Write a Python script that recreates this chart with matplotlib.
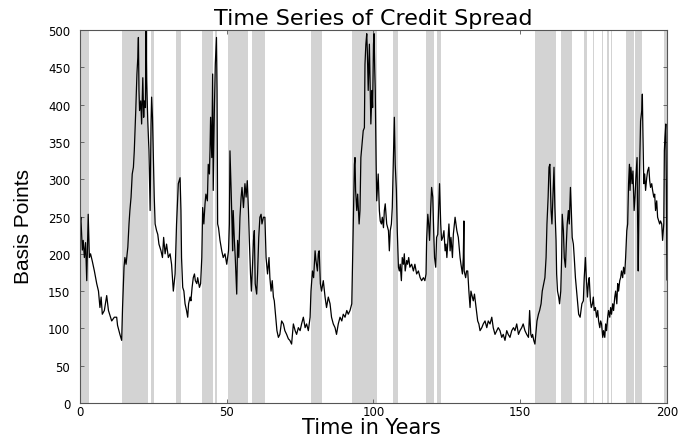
import matplotlib
matplotlib.use("Agg")
import matplotlib.pyplot as plt

# spread series (years, basis points)
years = [
    0.0, 0.3, 0.8, 1.1, 1.5, 1.9, 2.3, 2.8, 3.2, 3.6, 4.2, 4.9, 5.7, 6.3, 6.8, 7.2, 7.6, 8.3, 9.1, 9.7,
    10.8, 11.7, 12.5, 12.8, 13.6, 14.2, 14.5, 15.0, 15.3, 15.7, 16.3, 16.7, 17.0, 17.4, 17.8, 18.2, 18.5,
    19.0, 19.4, 19.7, 19.9, 20.1, 20.3, 20.7, 21.0, 21.4, 21.7, 21.9, 22.3, 22.5, 22.7, 23.1, 23.5, 23.9,
    24.2, 24.4, 24.7, 25.0, 25.3, 25.6, 26.1, 26.5, 26.9, 27.6, 28.1, 28.5, 29.0, 29.5, 30.1,
    30.7, 31.2, 31.8, 32.4, 32.9, 33.5, 34.1, 34.4, 34.6, 35.0, 35.4, 35.8, 36.3, 36.7, 37.0, 37.5, 37.8,
    38.2, 38.6, 39.0, 39.3, 39.8, 40.1, 40.7, 41.1, 41.5, 41.8, 42.2, 42.6, 42.9, 43.4, 43.7, 44.1, 44.3,
    44.5, 44.9, 45.2, 45.4, 45.8, 46.1, 46.5, 46.7, 46.9, 47.2, 47.7, 48.3, 48.8, 49.4, 50.0, 50.6, 50.9,
    51.1, 51.5, 51.8, 52.0, 52.2, 52.6, 52.9, 53.4, 53.7, 54.1, 54.5, 54.9, 55.2, 55.7, 56.2, 56.6, 57.0,
    57.4, 57.7, 58.1, 58.4, 58.8, 59.1, 59.4, 59.7, 60.2, 60.5, 60.9, 61.3, 61.7, 62.0, 62.5,
    63.0, 63.4, 63.9, 64.4, 64.7, 65.1, 65.5, 65.9, 66.2, 66.7, 67.1, 67.6, 68.1, 68.7, 69.3, 69.8, 70.4,
    71.0, 71.5, 72.1, 72.7, 73.3, 73.8, 74.4, 75.0, 75.5, 76.1, 76.7, 77.2, 77.8, 78.4, 78.7, 79.2, 79.6,
    80.1, 80.4, 80.9, 81.2, 81.5, 81.9, 82.3, 82.9, 83.5, 84.0, 84.6, 85.2, 85.7, 86.3, 86.9, 87.4, 88.0,
    88.6, 89.2, 89.7, 90.3, 90.9, 91.4, 92.0, 92.6, 92.9, 93.2, 93.5, 93.7, 93.9, 94.3, 94.6, 95.1, 95.4,
    95.7, 96.2, 96.5, 96.9,
    97.1, 97.4, 97.7, 97.9, 98.2, 98.6, 98.8, 99.1, 99.5, 99.7, 100.0, 100.2, 100.4, 100.6, 100.9, 101.1,
    101.3, 101.6, 102.0, 102.3, 102.7, 103.0, 103.4, 103.7, 104.0, 104.5, 105.1, 105.4, 105.7, 106.1,
    106.4, 106.8, 107.1, 107.4, 107.8, 108.1, 108.5, 108.8, 109.1, 109.5, 109.8, 110.2, 110.5, 110.8,
    111.3, 111.6, 112.0, 112.4, 113.0, 113.6, 114.1, 114.7, 115.3, 115.9, 116.4, 117.0, 117.5, 117.9,
    118.1, 118.5, 118.8, 119.1, 119.5, 119.8, 120.2, 120.5, 120.8, 121.2, 121.5, 121.9, 122.2, 122.5,
    122.9, 123.2, 123.6, 124.0, 124.4, 124.7, 125.0, 125.4, 125.7, 126.1, 126.4, 126.9, 127.2,
    127.8, 128.1, 128.4, 128.9, 129.1, 129.5, 129.8, 130.3, 130.6, 130.8, 130.9, 131.4, 131.7, 132.1,
    132.5, 132.9, 133.2, 133.7, 134.0, 134.4, 134.8, 135.1, 135.5, 135.9, 136.3, 136.9, 137.4, 138.0,
    138.6, 139.1, 139.7, 140.3, 140.8, 141.4, 142.0, 142.5, 143.1, 143.7, 144.2, 144.8, 145.4, 145.9,
    146.5, 147.1, 147.7, 148.2, 148.8, 149.4, 149.9, 150.5, 151.0, 151.6, 152.2, 152.8, 153.2, 153.6,
    153.9, 154.2, 154.6, 155.0, 155.4, 155.7, 156.2, 156.6, 157.1, 157.5, 158.0, 158.4, 158.8, 159.1,
    159.5, 159.8,
    160.1, 160.5, 160.8, 161.2, 161.5, 161.8, 162.2, 162.4, 162.7, 163.1, 163.4, 163.8, 164.1, 164.3,
    164.7, 165.0, 165.4, 165.7, 166.0, 166.4, 166.7, 167.1, 167.4, 167.7, 168.1, 168.4, 168.8, 169.2,
    169.6, 169.9, 170.4, 170.7, 171.0, 171.5, 171.8, 172.2, 172.5, 172.9, 173.2, 173.5, 173.9, 174.2,
    174.6, 174.9, 175.2, 175.6, 176.0, 176.4, 176.7, 177.1, 177.4, 177.7, 178.1, 178.4, 178.8, 179.1,
    179.4, 179.8, 180.1, 180.5, 180.8, 181.1, 181.5, 181.8, 182.2, 182.5, 182.9, 183.2, 183.5, 183.9,
    184.2, 184.5, 184.9, 185.2, 185.6, 185.9, 186.3, 186.6, 186.9, 187.2, 187.4, 187.7, 188.1, 188.4,
    188.8, 189.1, 189.4, 189.8, 190.0, 190.2, 190.5, 190.8, 191.0, 191.4, 191.6, 191.8, 192.1, 192.4,
    192.7, 193.1, 193.4, 193.8, 194.1, 194.4, 194.8, 195.1, 195.5, 195.8, 196.1, 196.5, 196.8, 197.2,
    197.5, 197.8, 198.2, 198.5, 198.9, 199.1, 199.3, 199.6, 199.8, 200.0,
]
spread = [
    240, 249, 205, 218, 195, 215, 164, 253, 195, 200, 190, 177, 160, 150, 128, 142, 119, 124, 144, 124,
    110, 115, 115, 104, 92, 84, 128, 182, 195, 186, 209, 240, 258, 276, 307, 316, 338,
    392, 441, 463, 490, 419, 392, 405, 374, 436, 383, 405, 396, 500, 432, 378, 338, 258,
    374, 410, 383, 329, 276, 240, 231, 226, 213, 204, 195, 222, 200, 213, 195,
    200, 186, 150, 173, 240, 294, 302, 258, 195, 155, 150, 133, 124, 115, 133, 142, 137,
    155, 168, 173, 164, 160, 168, 155, 160, 195, 262, 240, 267, 280, 271, 320, 307, 338,
    383, 329, 441, 285, 396, 454, 490, 419, 240, 235, 218, 204, 195, 200, 186, 204, 240,
    338, 285, 240, 204, 258, 218, 195, 146, 218, 195, 249, 276, 289, 262, 294, 276, 298,
    258, 218, 173, 150, 186, 218, 231, 160, 146, 173, 222, 249, 253, 240, 249,
    249, 195, 173, 195, 168, 150, 164, 142, 137, 115, 97, 88, 92, 110, 106, 97, 92,
    86, 84, 79, 106, 97, 92, 101, 97, 106, 115, 101, 106, 97, 115, 150, 177, 168,
    204, 191, 177, 200, 204, 160, 150, 164, 142, 128, 142, 133, 115, 106, 101, 92, 106,
    115, 110, 119, 115, 124, 119, 124, 133, 195, 258, 320, 329, 285, 258, 280, 240, 258,
    329, 352, 365, 369,
    454, 481, 495, 472, 419, 481, 436, 374, 419, 396, 481, 495, 450, 419, 320, 271,
    285, 307, 258, 244, 240, 249, 235, 258, 267, 240, 231, 204, 231, 240,
    262, 329, 383, 320, 285, 231, 182, 177, 186, 164, 195, 186, 200, 177,
    191, 186, 195, 182, 186, 177, 186, 173, 177, 168, 164, 168, 164, 173,
    218, 253, 240, 218, 262, 289, 276, 231, 195, 182, 222, 226, 258, 294,
    240, 218, 222, 231, 204, 213, 195, 222, 240, 204, 222, 195, 226,
    249, 240, 231, 222, 213, 195, 186, 173, 195, 244, 177, 168, 177, 177,
    150, 128, 150, 142, 137, 146, 133, 124, 110, 106, 97, 101, 106, 110,
    101, 110, 106, 115, 101, 92, 97, 101, 97, 88, 92, 84, 97, 92,
    88, 97, 101, 97, 106, 92, 97, 101, 106, 97, 92, 88, 124, 92,
    88, 92, 84, 79, 97, 110, 119, 124, 133, 150, 160, 168, 195, 240,
    276, 316,
    320, 258, 240, 285, 316, 262, 218, 173, 150, 142, 133, 150, 195, 253,
    231, 195, 182, 213, 240, 258, 240, 289, 258, 222, 213, 195, 168, 150,
    133, 119, 115, 124, 133, 137, 168, 195, 168, 142, 160, 168, 137, 128,
    133, 142, 124, 128, 115, 124, 110, 101, 110, 106, 88, 97, 88, 106,
    97, 115, 124, 115, 128, 119, 133, 124, 142, 150, 133, 160, 150, 164,
    168, 177, 168, 182, 173, 195, 231, 240, 294, 320, 285, 316, 294, 311,
    258, 276, 302, 329, 240, 177, 285, 338, 378, 392, 414, 361, 294, 307,
    285, 302, 311, 316, 298, 289, 294, 285, 276, 280, 258, 271, 249, 244,
    240, 244, 240, 218, 240, 338, 356, 374, 285, 165,
]

# shaded periods (start, end) in years
band_start = [0.3, 14.2, 24.2, 32.7, 41.7, 45.9, 50.5, 58.6, 78.6, 92.8, 106.6, 118.0, 121.5,
              130.7, 152.9, 155.0, 163.9, 171.8, 174.8, 176.8, 177.7, 179.6, 181.0, 186.1,
              189.2, 190.5, 199.1]
band_end = [3.0, 23.3, 25.1, 34.3, 45.3, 46.6, 57.4, 62.9, 82.3, 101.1, 108.5, 120.7, 123.1,
            130.9, 153.1, 162.3, 167.7, 172.7, 175.0, 177.0, 178.3, 180.1, 181.2, 188.8,
            190.3, 191.4, 200.0]

x_ticks = [0, 50, 100, 150, 200]
y_ticks = [0, 50, 100, 150, 200, 250, 300, 350, 400, 450, 500]

plt.rcParams['font.family'] = ['DejaVu Sans']

fig = plt.figure(figsize=(6.86, 4.39), dpi=100)
ax = fig.add_axes([0.1166, 0.0797, 0.8557, 0.8497])

for s, e in zip(band_start, band_end):
    ax.axvspan(s, e, color='#d3d3d3', lw=0, zorder=0)

ax.plot(years, spread, color='black', lw=0.9, zorder=2)

ax.set_xlim(0, 200)
ax.set_ylim(0, 500)
ax.set_xticks(x_ticks)
ax.set_yticks(y_ticks)
ax.tick_params(direction='in', top=True, right=True, length=3, width=0.6,
               labelsize=8.5, color='#555555')
ax.tick_params(axis='x', pad=1.5)
ax.tick_params(axis='y', pad=7)
for sp in ax.spines.values():
    sp.set_linewidth(0.8)
    sp.set_color('#555555')
    sp.set_zorder(3)

ax.set_title('Time Series of Credit Spread', fontsize=16, pad=4)
ax.set_xlabel('Time in Years', fontsize=15)
ax.xaxis.set_label_coords(0.497, -0.037)
ax.set_ylabel('Basis Points', fontsize=15,
              family=['Liberation Sans', 'DejaVu Sans'])
ax.yaxis.set_label_coords(-0.08, 0.477)

fig.savefig('out.png', dpi=100)
